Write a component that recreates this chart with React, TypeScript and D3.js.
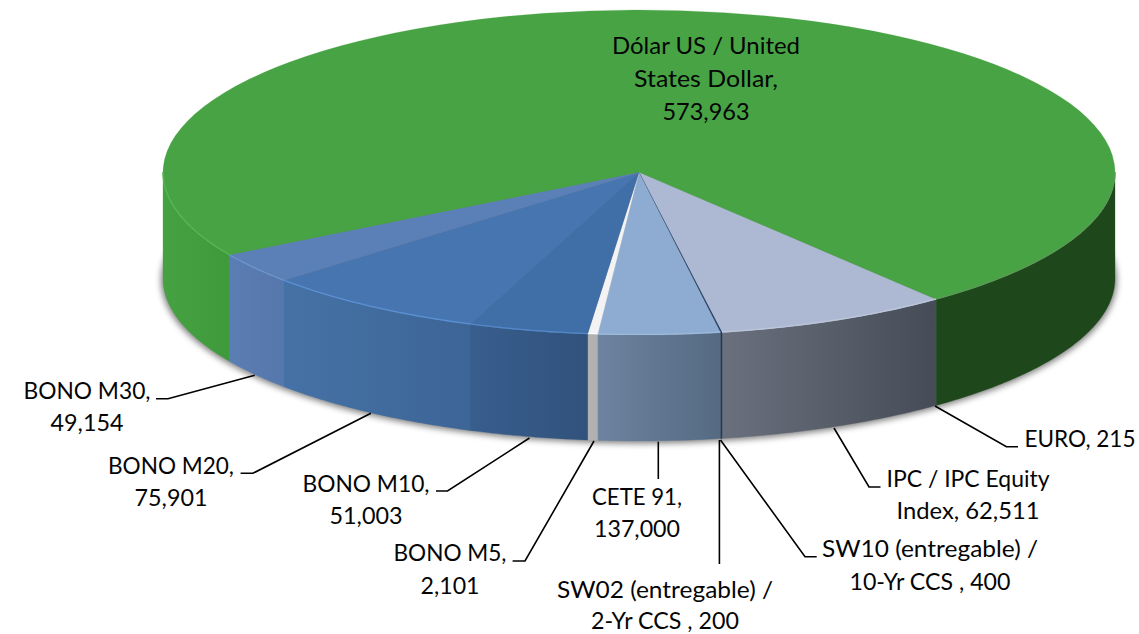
import React from "react";
import * as d3 from "d3";

// ---- data -------------------------------------------------------------
const sliceNames = ["Dólar US / United States Dollar", "EURO", "IPC / IPC Equity Index", "SW10 (entregable) / 10-Yr CCS", "SW02 (entregable) / 2-Yr CCS", "CETE 91", "BONO M5", "BONO M10", "BONO M20", "BONO M30"];
const labelValues = [573963, 215, 62511, 400, 200, 137000, 2101, 51003, 75901, 49154];
// visible sweep of each slice, in degrees
const sliceSweeps = [261.9, 0.1, 28.55, 0.1, 0.1, 14.83, 1.21, 14.61, 27.5, 11.1];

// ---- style & layout ---------------------------------------------------
const W = 1139, H = 634;
const cx = 639, cy = 172.5, rx = 476, ry = 162.5, depth = 106;
const startDeg = 239.4;
const topColors = ["#47A344", "#47A344", "#ADB9D2", "#1F3B62", "#1F3B62", "#8EACD1", "#F3F3F3", "#406FA8", "#4675B0", "#5A80B7"];
const rimColors = ["#55B851", "#47A344", "#BCC6DA", "#1F3B62", "#1F3B62", "#9DB9DC", "#FFFFFF", "#5287C8", "#5A90D4", "#6C94CC"];
const rightRimColor = "#5A9A57";
const sideStops: [string, string][] = [
  ["#46A142", "#3F9A3B"], ["#1E4A1C", "#1E4A1C"], ["#6A707D", "#454C57"], ["#16304F", "#16304F"], ["#16304F", "#16304F"],
  ["#6D839F", "#556A82"], ["#B4B4B4", "#AFAFAF"], ["#385E8E", "#31527C"], ["#4572A6", "#3D6596"], ["#5A7DB3", "#5677AC"],
];
const rightWallColor = "#1E471B";
const textColor = "#050505";
const fontFamily = "Lato, 'Open Sans', sans-serif";
const fontSize = 22.5;

const fmt = d3.format(",");
// [text, baseline y, measured width]
type Line = [string, number, number];
const texts: { i: number; x: number; lines: Line[] }[] = [
  { i: 0, x: 706, lines: [["Dólar US / United", 54, 188], ["States Dollar,", 87, 144], [fmt(labelValues[0]), 120, 87]] },
  { i: 1, x: 1080, lines: [["EURO, " + fmt(labelValues[1]), 447, 111]] },
  { i: 2, x: 968, lines: [["IPC / IPC Equity", 487, 163], ["Index, " + fmt(labelValues[2]), 519, 143]] },
  { i: 3, x: 930, lines: [["SW10 (entregable) /", 557, 216], ["10-Yr CCS , " + fmt(labelValues[3]), 590, 161]] },
  { i: 4, x: 665, lines: [["SW02 (entregable) /", 598, 216], ["2-Yr CCS , " + fmt(labelValues[4]), 629, 148]] },
  { i: 5, x: 637, lines: [["CETE 91,", 505, 90], [fmt(labelValues[5]), 537, 86]] },
  { i: 6, x: 450, lines: [["BONO M5,", 561, 113], [fmt(labelValues[6]), 594, 59]] },
  { i: 7, x: 366, lines: [["BONO M10,", 492, 127], [fmt(labelValues[7]), 524, 73]] },
  { i: 8, x: 171, lines: [["BONO M20,", 474, 126], [fmt(labelValues[8]), 506, 73]] },
  { i: 9, x: 87, lines: [["BONO M30,", 399, 127], [fmt(labelValues[9]), 431, 73]] },
];
const leaders: [number, number][][] = [
  [[1018, 446.7], [1006.4, 446.7], [935, 406]],
  [[880.5, 487], [869, 487], [834, 428]],
  [[816.7, 556.7], [805, 556.7], [720.5, 440]],
  [[719.4, 440], [719.4, 564]],
  [[658.3, 441.7], [658.3, 479]],
  [[512.6, 561], [525, 561], [594, 441]],
  [[436, 491], [447.5, 491], [529.5, 438]],
  [[240.6, 473.3], [252.9, 473.3], [370.9, 413.3]],
  [[156, 398.7], [168, 398.7], [254.8, 375.3]],
];

// ---- geometry ---------------------------------------------------------
const rad = (d: number) => (d * Math.PI) / 180;
const pieGen = d3.pie<number>().sort(null).value((d) => d).startAngle(rad(startDeg)).endAngle(rad(startDeg + 360));
const slices = pieGen(sliceSweeps);
const arcGen = d3.arc<d3.PieArcDatum<number>>().innerRadius(0).outerRadius(rx);
const lineGen = d3.line<[number, number]>();
const rimPt = (a: number, dy = 0): [number, number] => [cx + rx * Math.sin(a), cy - ry * Math.cos(a) + dy];

// angle ranges of the slice lying on the front half (90deg..270deg, also modulo 360)
function frontRanges(a0: number, a1: number): [number, number][] {
  const out: [number, number][] = [];
  for (const k of [0, 1]) {
    const lo = Math.max(a0, Math.PI / 2 + k * 2 * Math.PI);
    const hi = Math.min(a1, (3 * Math.PI) / 2 + k * 2 * Math.PI);
    if (hi > lo) out.push([lo, hi]);
  }
  return out;
}
const sample = (lo: number, hi: number, dy = 0) => {
  const n = Math.max(2, Math.ceil((hi - lo) / rad(0.5)));
  return d3.range(n + 1).map((j) => rimPt(lo + ((hi - lo) * j) / n, dy));
};
const wallPath = (lo: number, hi: number) =>
  lineGen([...sample(lo, hi, 0), ...sample(lo, hi, depth).reverse()]) + "Z";

export default function App() {
  const walls = slices.flatMap((s, i) =>
    frontRanges(s.startAngle, s.endAngle).map(([lo, hi], k) => ({ i, k, lo, hi, isRight: i === 0 && lo >= 2 * Math.PI }))
  );
  return (
    <svg width={W} height={H} viewBox={`0 0 ${W} ${H}`} style={{ position: "absolute", left: 0, top: 0, display: "block", background: "#fff" }}>
      <defs>
        <filter id="sh" x="-5%" y="-10%" width="110%" height="120%">
          <feGaussianBlur stdDeviation="3" />
        </filter>
        <filter id="rim" x="-5%" y="-5%" width="110%" height="110%">
          <feGaussianBlur stdDeviation="0.5" />
        </filter>
        {walls.map(({ i, k, lo, hi, isRight }) => {
          const stops = isRight ? [rightWallColor, rightWallColor] : sideStops[i];
          const x0 = Math.min(rimPt(lo)[0], rimPt(hi)[0]);
          const x1 = Math.max(rimPt(lo)[0], rimPt(hi)[0]);
          return (
            <linearGradient key={`${i}-${k}`} id={`w${i}-${k}`} gradientUnits="userSpaceOnUse" x1={x0} x2={x1} y1={0} y2={0}>
              <stop offset="0" stopColor={stops[0]} />
              <stop offset="1" stopColor={stops[1]} />
            </linearGradient>
          );
        })}
      </defs>

      {/* soft shadow behind the disc */}
      <ellipse cx={cx} cy={cy + depth + 1.5} rx={rx + 2} ry={ry + 1} fill="#555" opacity={0.75} filter="url(#sh)" />

      {/* side walls */}
      {walls.map(({ i, k, lo, hi }) => (
        <path key={`${i}-${k}`} d={wallPath(lo, hi)} fill={`url(#w${i}-${k})`} stroke={`url(#w${i}-${k})`} strokeWidth={0.3} />
      ))}

      {/* top faces */}
      <g transform={`translate(${cx},${cy}) scale(1,${ry / rx})`}>
        {slices.map((s, i) => (
          <path key={i} d={arcGen(s) || ""} fill={topColors[i]} stroke={topColors[i]} strokeWidth={0.3}>
            <title>{sliceNames[i]}</title>
          </path>
        ))}
      </g>

      {/* bevel highlight along the front rim */}
      {walls.map(({ i, k, lo, hi, isRight }) => (
        <path key={`r${i}-${k}`} d={lineGen(sample(lo, hi, -0.5)) || ""} fill="none" stroke={isRight ? rightRimColor : rimColors[i]} strokeWidth={1.3} filter="url(#rim)" />
      ))}

      {/* leader lines */}
      {leaders.map((pts, i) => (
        <path key={i} d={lineGen(pts) || ""} fill="none" stroke="#000" strokeWidth={1.6} />
      ))}

      {/* labels */}
      <g fontFamily={fontFamily} fontSize={fontSize} fill={textColor}>
        {texts.flatMap((t) =>
          t.lines.map(([s, y, w], j) => (
            <text key={`${t.i}-${j}`} x={t.x} y={y} textAnchor="middle" textLength={w} lengthAdjust="spacingAndGlyphs">
              {s}
            </text>
          ))
        )}
      </g>
    </svg>
  );
}
